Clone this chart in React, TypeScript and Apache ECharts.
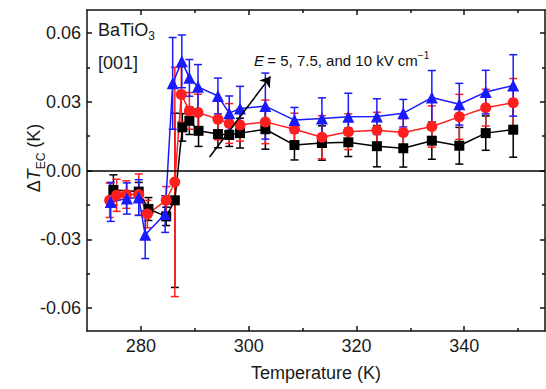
import React, { useEffect, useRef } from "react";
import * as echarts from "echarts";

// Temperatures (K), ΔT_EC (K) and error (K) for each field
const tempBlack = [274.9, 279.6, 281.4, 284.7, 286.3, 287.7, 289.0, 290.7, 294.3, 296.4, 298.4, 303.1, 308.5, 313.6, 318.5, 323.8, 328.7, 334.0, 339.1, 344.0, 349.1];
const dtBlack = [-0.0085, -0.0092, -0.0168, -0.0200, -0.0130, 0.0188, 0.0217, 0.0173, 0.0159, 0.0155, 0.0163, 0.0180, 0.0111, 0.0120, 0.0123, 0.0106, 0.0097, 0.0130, 0.0108, 0.0163, 0.0178];
const errBlack = [0.0066, 0.0040, 0.0050, 0.0040, 0.0380, 0.0060, 0.0060, 0.0068, 0.0060, 0.0050, 0.0065, 0.0087, 0.0065, 0.0075, 0.0062, 0.0090, 0.0082, 0.0081, 0.0080, 0.0075, 0.0120];

const tempRed = [274.2, 275.5, 277.3, 279.6, 281.2, 284.7, 286.3, 287.5, 289.0, 290.6, 294.3, 296.4, 298.4, 303.1, 308.5, 313.6, 318.5, 323.8, 328.7, 334.0, 339.1, 344.0, 349.1];
const dtRed = [-0.0130, -0.0108, -0.0105, -0.0105, -0.0190, -0.0130, -0.0050, 0.0332, 0.0260, 0.0253, 0.0224, 0.0205, 0.0198, 0.0212, 0.0180, 0.0145, 0.0169, 0.0176, 0.0166, 0.0192, 0.0234, 0.0274, 0.0296];
const errRed = [0.0075, 0.0070, 0.0060, 0.0090, 0.0060, 0.0060, 0.0500, 0.0120, 0.0080, 0.0080, 0.0090, 0.0087, 0.0070, 0.0095, 0.0070, 0.0094, 0.0078, 0.0078, 0.0060, 0.0090, 0.0098, 0.0080, 0.0105];

const tempBlue = [274.4, 277.4, 279.6, 280.8, 284.5, 285.9, 287.6, 289.0, 290.6, 294.3, 296.4, 298.4, 303.1, 308.5, 313.6, 318.5, 323.8, 328.7, 334.0, 339.1, 344.0, 349.1];
const dtBlue = [-0.0137, -0.0122, -0.0118, -0.0280, -0.0190, 0.0380, 0.0476, 0.0404, 0.0365, 0.0325, 0.0250, 0.0270, 0.0281, 0.0220, 0.0227, 0.0234, 0.0235, 0.0250, 0.0318, 0.0289, 0.0342, 0.0371];
const errBlue = [0.0085, 0.0068, 0.0078, 0.0104, 0.0080, 0.0200, 0.0115, 0.0080, 0.0097, 0.0078, 0.0075, 0.0097, 0.0144, 0.0055, 0.0090, 0.0103, 0.0078, 0.0060, 0.0118, 0.0091, 0.0095, 0.0134];

const xMajorTicks = [280, 300, 320, 340];
const xMinorTicks = [290, 310, 330, 350];
const yMajorTicks = [-0.06, -0.03, 0, 0.03, 0.06];
const yMinorTicks = [-0.045, -0.015, 0.015, 0.045];

// annotation arrow (data coords)
const arrowFrom = [292.75, 0.0059];
const arrowTo = [304.06, 0.041];

const FONT = "'Liberation Sans', Arial, sans-serif";
const BLACK = "#000000";
const RED = "#ff1f1f";
const BLUE = "#1a1aff";

function makeData(t: number[], v: number[], e: number[]) {
  return t.map((x, i) => [x, v[i], e[i]]);
}

function errSeries(data: number[][], color: string) {
  return {
    type: "custom",
    data,
    encode: { x: 0, y: 1 },
    silent: true,
    renderItem: (params: any, api: any) => {
      const x = api.value(0);
      const y = api.value(1);
      const e = api.value(2);
      const top = api.coord([x, y + e]);
      const bot = api.coord([x, y - e]);
      const cap = 4;
      const st = { stroke: color, lineWidth: 1.5 };
      return {
        type: "group",
        children: [
          { type: "line", shape: { x1: top[0], y1: top[1], x2: bot[0], y2: bot[1] }, style: st },
          { type: "line", shape: { x1: top[0] - cap, y1: top[1], x2: top[0] + cap, y2: top[1] }, style: st },
          { type: "line", shape: { x1: bot[0] - cap, y1: bot[1], x2: bot[0] + cap, y2: bot[1] }, style: st },
        ],
      };
    },
  };
}

function lineSeries(data: number[][], color: string, symbol: string, size: number, extra: any = {}) {
  return {
    type: "line",
    data: data.map((d) => [d[0], d[1]]),
    symbol,
    symbolSize: size,
    showAllSymbol: true,
    lineStyle: { color, width: 1.5 },
    itemStyle: { color, borderWidth: 0 },
    ...extra,
  };
}

const axisLineStyle = { color: "#111", width: 1.5 };

function xAxisDef(position: string, ticks: number[], len: number, showLine: boolean, labels: boolean, extra: any = {}) {
  return {
    type: "value",
    min: 270,
    max: 355,
    position,
    axisLine: { show: showLine, onZero: false, lineStyle: axisLineStyle },
    axisTick: { show: true, inside: true, length: len, customValues: ticks, lineStyle: axisLineStyle },
    axisLabel: labels
      ? { show: true, customValues: ticks, fontSize: 18, color: "#1a1a1a", fontFamily: FONT, margin: 6 }
      : { show: false },
    splitLine: { show: false },
    ...extra,
  };
}

function yAxisDef(position: string, ticks: number[], len: number, showLine: boolean, labels: boolean) {
  return {
    type: "value",
    min: -0.07,
    max: 0.07,
    position,
    axisLine: { show: showLine, onZero: false, lineStyle: axisLineStyle },
    axisTick: { show: true, inside: true, length: len, customValues: ticks, lineStyle: axisLineStyle },
    axisLabel: labels
      ? {
          show: true,
          customValues: ticks,
          fontSize: 18,
          color: "#1a1a1a",
          fontFamily: FONT,
          margin: 6,
          formatter: (v: number) => v.toFixed(2),
        }
      : { show: false },
    splitLine: { show: false },
  };
}

export default function App() {
  const ref = useRef<HTMLDivElement>(null);
  useEffect(() => {
    if (!ref.current) return;
    const chart = echarts.init(ref.current, null, { renderer: "svg" });
    const black = makeData(tempBlack, dtBlack, errBlack);
    const red = makeData(tempRed, dtRed, errRed);
    const blue = makeData(tempBlue, dtBlue, errBlue);
    chart.setOption({
      animation: false,
      backgroundColor: "#ffffff",
      grid: { left: 87, right: 1, top: 10, bottom: 58, outerBoundsMode: "none" },
      xAxis: [
        xAxisDef("bottom", xMajorTicks, 5, true, true, {
          name: "Temperature (K)",
          nameLocation: "middle",
          nameGap: 33,
          nameTextStyle: { fontSize: 18, color: "#1a1a1a", fontFamily: FONT },
        }),
        xAxisDef("bottom", xMinorTicks, 3, false, false),
        xAxisDef("top", xMajorTicks, 5, true, false),
        xAxisDef("top", xMinorTicks, 3, false, false),
      ],
      yAxis: [
        yAxisDef("left", yMajorTicks, 5, true, true),
        yAxisDef("left", yMinorTicks, 3, false, false),
        yAxisDef("right", yMajorTicks, 5, true, false),
        yAxisDef("right", yMinorTicks, 3, false, false),
      ],
      series: [
        errSeries(black, BLACK),
        lineSeries(black, BLACK, "rect", 10, {
          markLine: {
            silent: true,
            symbol: ["none", "none"],
            label: { show: false },
            lineStyle: { color: "#000", width: 1.5, type: "solid" },
            data: [
              { yAxis: 0 },
              [
                { coord: arrowFrom, symbol: "none" },
                { coord: arrowTo, symbol: "arrow", symbolSize: 10 },
              ],
            ],
          },
        }),
        errSeries(red, RED),
        lineSeries(red, RED, "circle", 11),
        errSeries(blue, BLUE),
        lineSeries(blue, BLUE, "triangle", 12),
      ],
      graphic: [
        {
          type: "text",
          x: 34,
          y: 158,
          rotation: Math.PI / 2,
          style: {
            text: "{a|Δ}{i|T}{s|EC}{a| (K)}",
            align: "center",
            verticalAlign: "middle",
            fill: "#1a1a1a",
            rich: {
              a: { fontSize: 18, fontFamily: FONT, fill: "#1a1a1a", lineHeight: 26 },
              i: { fontSize: 18, fontFamily: FONT, fontStyle: "italic", fill: "#1a1a1a", lineHeight: 26 },
              s: { fontSize: 12, fontFamily: FONT, fill: "#1a1a1a", verticalAlign: "bottom", lineHeight: 20 },
            },
          },
        },
        {
          type: "text",
          x: 98,
          y: 30,
          style: {
            text: "{a|BaTiO}{s|3}",
            verticalAlign: "middle",
            rich: {
              a: { fontSize: 18, fontFamily: FONT, fill: "#1a1a1a", lineHeight: 24 },
              s: { fontSize: 12, fontFamily: FONT, fill: "#1a1a1a", verticalAlign: "bottom", lineHeight: 18 },
            },
          },
        },
        {
          type: "text",
          x: 98,
          y: 63,
          style: {
            text: "[001]",
            verticalAlign: "middle",
            fontSize: 18,
            fontFamily: FONT,
            fill: "#1a1a1a",
          },
        },
        {
          type: "text",
          x: 254,
          y: 60,
          style: {
            text: "{i|E} {a|= 5, 7.5, and 10 kV cm}{p|−1}",
            verticalAlign: "middle",
            rich: {
              i: { fontSize: 15, fontFamily: FONT, fontStyle: "italic", fill: "#111", lineHeight: 20 },
              a: { fontSize: 15, fontFamily: FONT, fill: "#111", lineHeight: 20 },
              p: { fontSize: 10, fontFamily: FONT, fill: "#111", verticalAlign: "top", lineHeight: 14 },
            },
          },
        },
      ],
    });
    return () => chart.dispose();
  }, []);
  return (
    <div
      ref={ref}
      style={{ position: "fixed", left: 0, top: 0, width: 546, height: 389, background: "#fff" }}
    />
  );
}
